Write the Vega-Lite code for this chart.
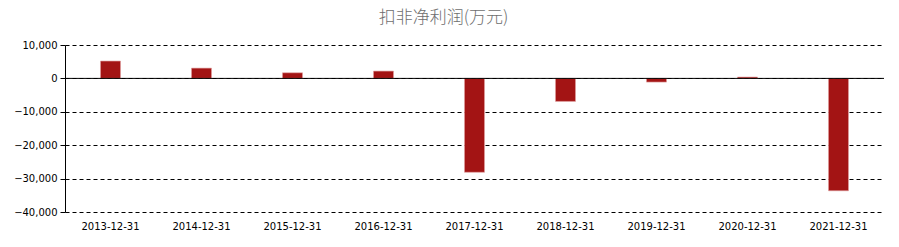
{
  "$schema": "https://vega.github.io/schema/vega-lite/v6.json",
  "autosize": {"type": "none"},
  "width": 819,
  "height": 167,
  "padding": {"left": 65, "top": 45, "right": 15, "bottom": 35},
  "background": "white",
  "title": {
    "text": "扣非净利润(万元)",
    "font": "Noto Sans CJK SC",
    "fontSize": 17,
    "fontWeight": 300,
    "color": "#6e6e6e",
    "anchor": "middle",
    "dx": -31,
    "offset": 13
  },
  "data": {
    "values": [
      {"date": "2013-12-31", "value": 5200},
      {"date": "2014-12-31", "value": 3080},
      {"date": "2015-12-31", "value": 1680},
      {"date": "2016-12-31", "value": 2190},
      {"date": "2017-12-31", "value": -28100},
      {"date": "2018-12-31", "value": -6890},
      {"date": "2019-12-31", "value": -1100},
      {"date": "2020-12-31", "value": 400},
      {"date": "2021-12-31", "value": -33650}
    ]
  },
  "config": {
    "view": {"stroke": null},
    "axis": {"labelFont": "DejaVu Sans", "labelFontSize": 10, "labelColor": "#000000"}
  },
  "resolve": {"axis": {"y": "independent"}},
  "layer": [
    {
      "mark": {"type": "bar", "color": "#A31414", "stroke": "#E0A0A0", "strokeWidth": 0.6},
      "encoding": {
        "x": {
          "field": "date",
          "type": "nominal",
          "sort": null,
          "scale": {"paddingInner": 0.78, "paddingOuter": 0.39},
          "axis": {"title": null, "labelAngle": 0, "domain": false, "ticks": false, "labelPadding": 9, "grid": false}
        },
        "y": {
          "field": "value",
          "type": "quantitative",
          "scale": {"domain": [-40000, 10000], "nice": false},
          "axis": {
            "title": null,
            "values": [-40000, -30000, -20000, -10000, 0, 10000],
            "format": ",d",
            "labelOverlap": false,
            "domainColor": "#000000",
            "domainWidth": 1,
            "tickColor": "#000000",
            "tickSize": 5,
            "labelPadding": 3,
            "grid": true,
            "gridColor": "#000000",
            "gridDash": [4, 3],
            "gridOpacity": 1,
            "gridWidth": 1
          }
        }
      }
    },
    {
      "data": {"values": [{"y": 0}]},
      "mark": {"type": "rule", "color": "#000000", "strokeWidth": 1},
      "encoding": {"y": {"field": "y", "type": "quantitative", "axis": null}}
    }
  ]
}
